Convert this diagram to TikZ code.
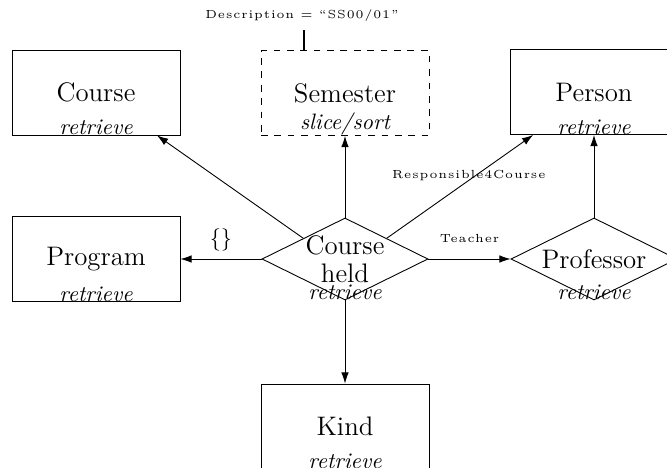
\documentclass[tikz,border=0pt]{standalone}
\usepackage{fontspec}
\usetikzlibrary{shapes.geometric,arrows.meta}
\newfontfamily\labfont[LetterSpace=7.4]{lmroman5-regular.otf}
\begin{document}
\begin{tikzpicture}[x=0.448pt,y=-0.448pt,
  entity/.style={draw, rectangle, minimum width=75.26pt, minimum height=38.08pt, inner sep=0pt, font=\large},
  entdash/.style={entity, dashed},
  rel/.style={draw, diamond, minimum width=74.37pt, minimum height=36.74pt, inner sep=0pt},
  reltext/.style={font=\fontsize{12}{12.6}\selectfont, align=center, inner sep=0pt},
  op/.style={font=\itshape, inner sep=0pt, anchor=south},
  lab/.style={font=\labfont\fontsize{5.25}{6.5}\selectfont, inner sep=0pt},
  conn/.style={-{Latex[length=5pt,width=3.4pt]}},
]
\useasboundingbox (0,0) rectangle (667,468);

% entities
\node[entity] (course) at (96,92.5) {Course};
\node[op] (courseOp) at (course.south) {retrieve};
\node[entdash] (sem) at (345,93) {Semester};
\node[op] (semOp) at (sem.south) {slice/sort};
\node[entity] (person) at (594,92) {Person};
\node[op] (personOp) at (person.south) {retrieve};
\node[entity] (prog) at (96,259) {Program};
\node[op] (progOp) at (prog.south) {retrieve};
\node[entity] (kind) at (345,426.5) {Kind};
\node[op] (kindOp) at (kind.south) {retrieve};

% relationships
\node[rel] (ch) at (345,259) {};
\node[reltext] (chT) at (ch.center) {Course\\held};
\node[op] (chOp) at (ch.south) {retrieve};
\node[rel] (prof) at (594,259) {};
\node[reltext] (profT) at (prof.center) {Professor};
\node[op] (profOp) at (prof.south) {retrieve};

% description
\node[lab, anchor=base] (desc) at (302,19) {Description = “SS00/01”};
\coordinate (tk) at (304,30);
\draw[line width=0.9pt] (tk) -- (tk |- sem.north);

% connectors
\draw[conn] (ch.north west) -- (course);
\draw[conn] (ch.north) -- (sem.south);
\draw[conn] (ch.north east) -- node[lab, pos=0.56, yshift=2.2pt] {Responsible4Course} (person);
\draw[conn] (ch.west) -- node[above] {$\{\}$} (prog.east);
\draw[conn] (ch.east) -- node[lab, anchor=base, yshift=7.6pt] {Teacher} (prof.west);
\draw[conn] (prof.north) -- (person.south);
\draw[conn] (ch.south) -- (kind.north);
\end{tikzpicture}
\end{document}
